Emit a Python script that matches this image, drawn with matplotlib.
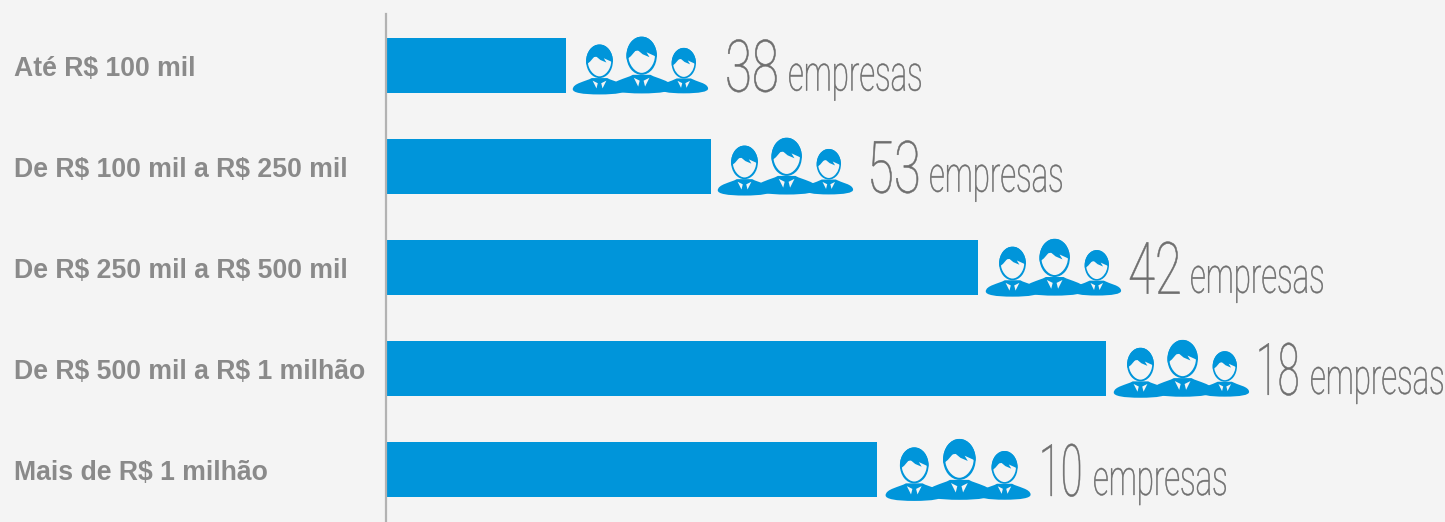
import matplotlib
matplotlib.use("Agg")
import matplotlib.pyplot as plt
from matplotlib.patches import Ellipse, PathPatch
from matplotlib.path import Path
from matplotlib.patheffects import AbstractPathEffect
from matplotlib.text import Text
from matplotlib.transforms import Affine2D, Bbox

categories = ["Até R$ 100 mil", "De R$ 100 mil a R$ 250 mil", "De R$ 250 mil a R$ 500 mil",
              "De R$ 500 mil a R$ 1 milhão", "Mais de R$ 1 milhão"]
bar_values = [179, 324, 591, 719, 490]
company_counts = [38, 53, 42, 18, 10]

W, H = 1445, 522
BLUE = "#0095da"
BG = "#f4f4f4"
GREY = "#6e6e6e"
ROW_START, ROW_STEP = 65.5, 101.1
AXIS_X = 386

# per row layout, in pixels from the end of the bar
icon_gap = [9, 9, 10, 10, 11]
icon_scale = [0.98, 0.98, 0.98, 0.98, 1.05]
count_gap = [159, 156, 150, 150, 162]
word_gap = [222, 218, 212, 204, 216]
count_narrow = [0.68, 0.68, 0.68, 0.55, 0.55]


class Condensed(AbstractPathEffect):
    """Squeeze text around its left edge and thicken it a little (no condensed light font installed)."""

    def __init__(self, x0, factor, stroke):
        super().__init__()
        self.x0 = x0
        self.factor = factor
        self.stroke = stroke

    def draw_path(self, renderer, gc, tpath, affine, rgbFace=None):
        squeeze = Affine2D().translate(-self.x0, 0).scale(self.factor, 1).translate(self.x0, 0)
        gc0 = renderer.new_gc()
        gc0.copy_properties(gc)
        gc0.set_foreground(rgbFace)
        gc0.set_linewidth(self.stroke)
        renderer.draw_path(gc0, tpath, affine + squeeze, rgbFace)
        gc0.restore()


class NarrowText(Text):
    # extent has to follow the squeezed glyphs, not the natural ones
    narrow = 1.0

    def get_window_extent(self, renderer=None, dpi=None):
        box = super().get_window_extent(renderer, dpi)
        return Bbox.from_extents(box.x0, box.y0, box.x0 + box.width * self.narrow, box.y1)


def narrow_text(ax, x, y, s, size, factor, stroke):
    t = NarrowText(x, y, s, family="Roboto", weight="light", fontsize=size, color=GREY, va="baseline")
    t.narrow = factor
    ax.add_artist(t)
    t.set_path_effects([Condensed(x, factor, stroke)])
    return t


def draw_person(ax, cx, top, s):
    def pts(seq):
        return [(cx + x * s, top + y * s) for x, y in seq]

    # hair and head outline
    head = Ellipse((cx, top + 19.5 * s), 31 * s, 39 * s, color=BLUE, lw=0, zorder=3)
    ax.add_patch(head)
    face = [(-13.5, 20), (-13.5, 28), (-7, 37), (0, 37), (7, 37), (13.5, 28), (13.5, 20),
            (13.5, 12), (-13.5, 12), (-13.5, 20)]
    codes = [Path.MOVETO] + [Path.CURVE4] * 9
    ax.add_patch(PathPatch(Path(pts(face), codes), color=BG, lw=0, zorder=4))
    fringe = [(-16, 24), (-11, 20), (-5, 13), (1, 18), (8, 21), (5, 16), (16, 21), (16, 0), (-16, 0)]
    hair = plt.Polygon(pts(fringe), color=BLUE, lw=0, zorder=5)
    ax.add_patch(hair)
    hair.set_clip_path(head)
    # shoulders
    body = [(-31, 52), (-31, 45), (-16, 43), (-9, 39), (0, 39), (9, 39), (16, 43), (31, 45), (31, 52),
            (31, 56), (20, 58), (0, 58), (-20, 58), (-31, 56), (-31, 52)]
    codes = [Path.MOVETO, Path.CURVE4, Path.CURVE4, Path.CURVE4, Path.LINETO, Path.LINETO,
             Path.CURVE4, Path.CURVE4, Path.CURVE4,
             Path.CURVE4, Path.CURVE4, Path.CURVE4, Path.CURVE4, Path.CURVE4, Path.CURVE4]
    ax.add_patch(PathPatch(Path(pts(body), codes), color=BLUE, lw=0, zorder=3))
    # collar either side of the tie
    ax.add_patch(plt.Polygon(pts([(-8, 42), (-2, 45), (-3.5, 51)]), color=BG, lw=0, zorder=4))
    ax.add_patch(plt.Polygon(pts([(8, 42), (2, 45), (3.5, 51)]), color=BG, lw=0, zorder=4))


def draw_group(ax, left, mid_y, s):
    # centre figure first so the side ones sit on top of it
    draw_person(ax, left + 68 * s, mid_y - 29.5 * s, 1.0 * s)
    draw_person(ax, left + 25 * s, mid_y - 21.5 * s, 0.88 * s)
    draw_person(ax, left + 111 * s, mid_y - 18 * s, 0.8 * s)


fig = plt.figure(figsize=(W / 100, H / 100), dpi=100, facecolor=BG)

# bars: one x unit is one pixel
ax = fig.add_axes([AXIS_X / W, 0, 1 - AXIS_X / W, 1 - 14 / H], facecolor="none")
y_pos = list(range(len(categories)))
ax.barh(y_pos, bar_values, height=55 / ROW_STEP, left=1, color=BLUE, linewidth=0)
ax.set_xlim(0, W - AXIS_X)
ax.set_ylim((H - ROW_START) / ROW_STEP, -(ROW_START - 14) / ROW_STEP)
for side in ["top", "right", "bottom"]:
    ax.spines[side].set_visible(False)
ax.spines["left"].set_color("#b2b2b2")
ax.spines["left"].set_linewidth(1.6)
ax.set_xticks([])
ax.set_yticks([])

# overlay in pixel coordinates for the labels and icons
ov = fig.add_axes([0, 0, 1, 1], facecolor="none")
ov.set_xlim(0, W)
ov.set_ylim(H, 0)
ov.axis("off")

for i, (name, val, count) in enumerate(zip(categories, bar_values, company_counts)):
    mid = ROW_START + ROW_STEP * i
    end = AXIS_X + 1 + val
    ov.text(14, mid + 10.5, name, family="Liberation Sans", weight="bold", fontsize=19.2, color="#8a8a8a",
            va="baseline", parse_math=False)
    draw_group(ov, end + icon_gap[i], mid, icon_scale[i])

    narrow_text(ov, end + count_gap[i], mid + 26, str(count), 52, count_narrow[i], 0.4)
    narrow_text(ov, end + word_gap[i], mid + 25, "empresas", 36, 0.625, 0.4)

fig.savefig("out.png", dpi=100, facecolor=BG)
